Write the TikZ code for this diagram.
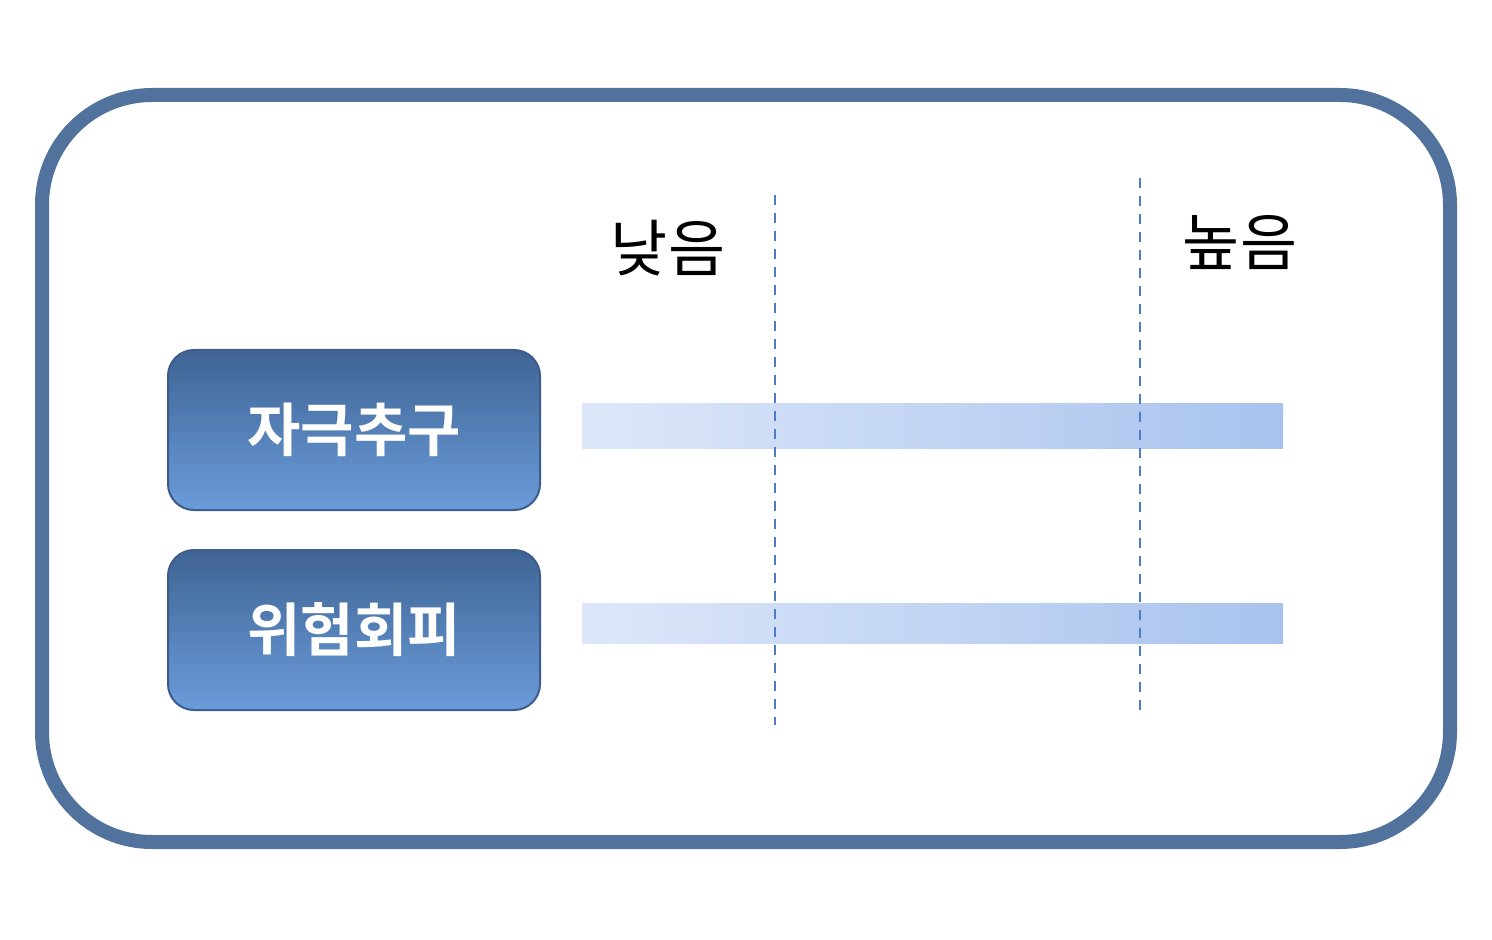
\documentclass[tikz,border=0pt]{standalone}
\usepackage{fontspec}
\newfontfamily\kr{Noto Sans CJK KR}
\newfontfamily\krb{Noto Sans CJK KR Bold}
\definecolor{frame}{HTML}{52729E}
\definecolor{btop}{HTML}{3F6494}
\definecolor{bbot}{HTML}{6A9CDA}
\definecolor{bedge}{HTML}{3B5C8C}
\definecolor{barl}{HTML}{DDE7F9}
\definecolor{barr}{HTML}{A8C3EE}
\definecolor{guidecol}{HTML}{4D7CC2}
\tikzset{
  catbox/.style={rounded corners=13pt, draw=bedge, line width=1pt, top color=btop, bottom color=bbot},
  bar/.style={left color=barl, right color=barr, draw=none},
  guide/.style={draw=guidecol, line width=1pt, dash pattern=on 5pt off 4pt},
  lab/.style={font=\kr\fontsize{31}{31}\selectfont, text=black},
  blab/.style={font=\krb\fontsize{29}{29}\selectfont, text=white}
}
\begin{document}
\begin{tikzpicture}[x=0.5pt,y=-0.5pt]
\useasboundingbox (0,0) rectangle (1492,940);
\fill[white] (0,0) rectangle (1492,940);
\draw[frame, line width=7pt, rounded corners=55pt] (42,95) rectangle (1450,842);
\node[catbox, minimum width=186pt, minimum height=80pt] (b1) at (354,430) {};
\node[blab] (t1) at (b1) {자극추구};
\node[catbox, minimum width=186pt, minimum height=80pt] (b2) at (354,630) {};
\node[blab] (t2) at (b2) {위험회피};
\fill[bar] (582,404) rectangle (1283,449);
\fill[bar] (582,603) rectangle (1283,643);
\coordinate (d1a) at (775,195); \coordinate (d1b) at (775,725);
\coordinate (d2a) at (1140,178); \coordinate (d2b) at (1140,710);
\draw[guide] (d1a) -- (d1b);
\draw[guide] (d2a) -- (d2b);
\node[lab] (low) at (668,248) {낮음};
\node[lab] (high) at (1240,243) {높음};
\end{tikzpicture}
\end{document}
